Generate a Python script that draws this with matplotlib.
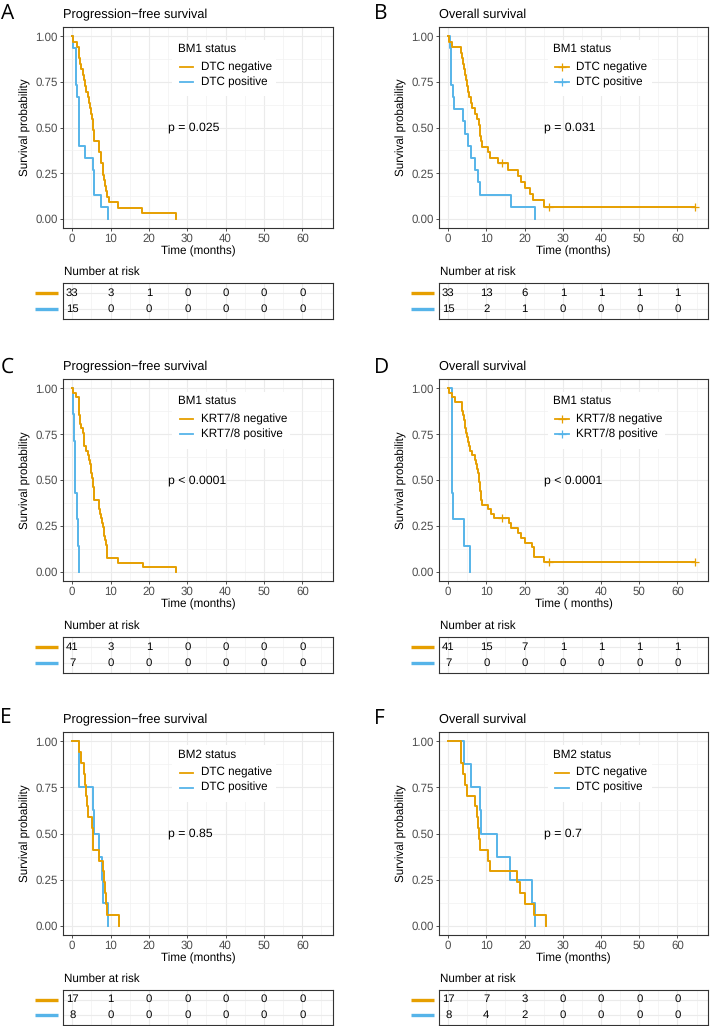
import numpy as np
import matplotlib
matplotlib.use('Agg')
import matplotlib.pyplot as plt
import matplotlib.transforms as mtransforms
from matplotlib.patches import Rectangle

plt.rcParams['font.family'] = ['Liberation Sans', 'DejaVu Sans']
plt.rcParams['text.hinting'] = 'no_hinting'

ORANGE = '#E69F00'
BLUE = '#56B4E9'

# event times (months), censored times separately
a_neg = [0.3, 1.2, 1.7, 1.7, 2.1, 2.4, 2.8, 3.1, 3.4, 3.7, 4.0, 4.3, 4.7, 5.0, 5.2, 5.4, 5.5,
         5.7, 5.7, 6.9, 7.1, 7.4, 7.6, 7.9, 8.1, 8.4, 8.6, 8.8, 9.2, 9.5, 12.0, 18.3, 27.0]
a_pos = [0.25, 0.9, 0.9, 0.9, 1.3, 1.65, 1.65, 1.65, 1.65, 3.3, 5.3, 5.7, 5.7, 7.6, 9.4]

b_neg = [0.3, 1.0, 3.4, 3.6, 3.9, 4.2, 4.4, 4.6, 4.9, 5.2, 5.5, 5.9, 6.3, 7.1, 7.6, 8.0, 8.2,
         8.4, 8.6, 8.8, 10.4, 11.0, 13.0, 15.6, 18.3, 19.1, 20.2, 21.3, 22.2, 25.2]
b_neg_cens = [14.0, 26.3, 64.5]
b_pos = [0.4, 0.7, 0.7, 0.7, 1.2, 1.6, 4.0, 4.3, 5.3, 6.0, 7.0, 7.8, 8.2, 16.4, 22.6]

c_neg = [0.3, 0.9, 1.7, 1.7, 1.9, 1.9, 2.1, 2.1, 2.4, 2.8, 3.0, 3.0, 3.2, 3.6, 4.0, 4.4, 4.6,
         4.9, 5.0, 5.2, 5.4, 5.4, 5.6, 5.6, 5.8, 6.9, 7.0, 7.2, 7.5, 7.8, 8.0, 8.2, 8.4, 8.6,
         8.8, 9.1, 9.1, 9.1, 12.0, 18.4, 27.0]
c_pos = [0.1, 0.5, 0.8, 0.8, 1.2, 1.5, 1.7]

d_neg = [0.3, 0.9, 1.8, 3.5, 3.7, 3.9, 4.1, 4.3, 4.5, 4.7, 4.9, 5.1, 5.4, 5.8, 6.3, 6.9, 7.2,
         7.6, 7.9, 8.0, 8.1, 8.2, 8.4, 8.5, 8.6, 8.8, 10.4, 11.2, 12.0, 15.9, 16.5, 18.3, 19.0,
         20.2, 22.0, 22.5, 22.5, 25.2]
d_neg_cens = [14.0, 26.3, 64.5]
d_pos = [0.9, 0.9, 0.9, 0.9, 1.2, 4.1, 5.6]

e_neg = [1.8, 2.3, 3.1, 3.3, 3.6, 3.9, 4.2, 5.1, 5.5, 5.5, 7.1, 7.9, 8.2, 8.5, 8.7, 9.2, 12.1]
e_pos = [1.7, 1.7, 5.4, 5.8, 7.0, 7.7, 8.1, 9.4]

f_neg = [3.3, 3.3, 3.8, 4.3, 4.9, 7.0, 7.5, 7.8, 8.0, 8.4, 10.4, 11.0, 18.0, 18.8, 20.1, 22.4, 25.5]
f_pos = [4.1, 6.1, 8.4, 8.7, 12.9, 16.3, 21.9, 22.8]

# number at risk at 0, 10, ..., 60
risk_times = [0, 10, 20, 30, 40, 50, 60]
risk_a = [[33, 3, 1, 0, 0, 0, 0], [15, 0, 0, 0, 0, 0, 0]]
risk_b = [[33, 13, 6, 1, 1, 1, 1], [15, 2, 1, 0, 0, 0, 0]]
risk_c = [[41, 3, 1, 0, 0, 0, 0], [7, 0, 0, 0, 0, 0, 0]]
risk_d = [[41, 15, 7, 1, 1, 1, 1], [7, 0, 0, 0, 0, 0, 0]]
risk_e = [[17, 1, 0, 0, 0, 0, 0], [8, 0, 0, 0, 0, 0, 0]]
risk_f = [[17, 7, 3, 0, 0, 0, 0], [8, 4, 2, 0, 0, 0, 0]]

letters = ['A', 'B', 'C', 'D', 'E', 'F']
titles = ['Progression\u2212free survival', 'Overall survival'] * 3
pvals = ['p = 0.025', 'p = 0.031', 'p < 0.0001', 'p < 0.0001', 'p = 0.85', 'p = 0.7']
legend_titles = ['BM1 status', 'BM1 status', 'BM1 status', 'BM1 status', 'BM2 status', 'BM2 status']
dtc_labels = ['DTC negative', 'DTC positive']
krt_labels = ['KRT7/8 negative', 'KRT7/8 positive']
xlabels = ['Time (months)', 'Time (months)', 'Time (months)', 'Time ( months)', 'Time (months)', 'Time (months)']


def km(events, cens):
    t = np.array(list(events) + list(cens), dtype=float)
    e = np.array([1] * len(events) + [0] * len(cens))
    n = len(t)
    s = 1.0
    xs, ys = [0.0], [1.0]
    cx, cy = [], []
    for u in sorted(set(t)):
        d = int(np.sum((t == u) & (e == 1)))
        c = int(np.sum((t == u) & (e == 0)))
        if d:
            s = s * (n - d) / n
            xs.append(u)
            ys.append(s)
        if c:
            cx.append(u)
            cy.append(s)
        n -= d + c
    if xs[-1] < t.max():
        xs.append(t.max())
        ys.append(s)
    return xs, ys, cx, cy


W, H = 712, 1026
fig = plt.figure(figsize=(W / 100, H / 100), dpi=100)


def rect(x0, y0, x1, y1):
    return [x0 / W, 1 - y1 / H, (x1 - x0) / W, (y1 - y0) / H]


cols = [(63, 333), (439, 708)]
rows = [(27, 228, 283, 319), (379, 581, 637, 673), (732, 935, 990, 1025)]
letter_pos = [(1, 19), (374, 19), (1, 373), (374, 373), (0, 723), (374, 724)]

panels = [
    (a_neg, [], a_pos, [], risk_a, dtc_labels, False),
    (b_neg, b_neg_cens, b_pos, [], risk_b, dtc_labels, True),
    (c_neg, [], c_pos, [], risk_c, krt_labels, False),
    (d_neg, d_neg_cens, d_pos, [], risk_d, krt_labels, True),
    (e_neg, [], e_pos, [], risk_e, dtc_labels, False),
    (f_neg, [], f_pos, [], risk_f, dtc_labels, False),
]

XLIM = (-2.4, 68.0)
for i, (neg, neg_c, pos, pos_c, risk, labels, show_cens) in enumerate(panels):
    x0, x1 = cols[i % 2]
    py0, py1, ty0, ty1 = rows[i // 2]
    ax = fig.add_axes(rect(x0, py0, x1, py1))
    axt = fig.add_axes(rect(x0, ty0, x1, ty1))

    for a in (ax, axt):
        a.set_xlim(*XLIM)
        a.set_xticks(risk_times)
        a.set_xticks([5, 15, 25, 35, 45, 55, 65], minor=True)
        a.grid(True, which='major', color='#EBEBEB', lw=0.8, zorder=0)
        a.grid(True, which='minor', color='#F2F2F2', lw=0.5, zorder=0)
        a.set_axisbelow(True)
        for sp in a.spines.values():
            sp.set_color('#333333')
            sp.set_linewidth(0.8)

    # survival curves
    ax.set_ylim(-0.05, 1.05)
    ax.set_yticks([0, 0.25, 0.5, 0.75, 1.0])
    ax.set_yticklabels(['0.00', '0.25', '0.50', '0.75', '1.00'])
    ax.set_yticks([0.125, 0.375, 0.625, 0.875], minor=True)
    ax.tick_params(which='major', labelsize=8.3, labelcolor='#4D4D4D', color='#333333',
                   length=2.5, width=0.6, pad=1.5)
    ax.tick_params(which='minor', length=0)
    for grp, (ev, ce, col) in enumerate([(neg, neg_c, ORANGE), (pos, pos_c, BLUE)]):
        xs, ys, cx, cy = km(ev, ce)
        ax.step(xs, ys, where='post', color=col, lw=1.4, zorder=3 - grp * 0.1)
        if show_cens and cx:
            ax.plot(cx, cy, ls='none', marker='+', ms=6, mew=0.9, color=col, zorder=4)

    ax.set_ylabel('Survival probability', fontsize=8.4)
    ax.yaxis.set_label_coords(-38 / (x1 - x0), 0.5)
    ax.yaxis.label.set_va('center')
    ax.set_xlabel(xlabels[i], fontsize=8.4)
    ax.xaxis.set_label_coords(0.5, -23 / (py1 - py0))
    ax.xaxis.label.set_va('center')

    ax.text(25, 0.5, pvals[i], fontsize=8.8, ha='left', va='center', zorder=5)

    # legend drawn inside the panel
    box_r = 0.84 if labels is krt_labels else 0.79
    ax.add_patch(Rectangle((0.405, 0.655), box_r - 0.405, 0.28, transform=ax.transAxes,
                           facecolor='white', edgecolor='none', zorder=2))
    ax.text(0.425, 0.89, legend_titles[i], transform=ax.transAxes, fontsize=8.4,
            ha='left', va='center', zorder=5)
    for k, (lab, col) in enumerate(zip(labels, [ORANGE, BLUE])):
        yy = 0.80 - k * 0.074
        ax.plot([0.432, 0.482], [yy, yy], transform=ax.transAxes, color=col, lw=1.3, zorder=5)
        if show_cens:
            ax.plot([0.457], [yy], transform=ax.transAxes, marker='+', ms=6, mew=0.9,
                    color=col, zorder=5)
        ax.text(0.51, yy, lab, transform=ax.transAxes, fontsize=8.4, ha='left',
                va='center', zorder=5)

    ax.text(0, 1 + 8.7 / (py1 - py0), titles[i], transform=ax.transAxes, fontsize=9.2,
            ha='left', va='baseline')

    # risk table
    axt.set_ylim(0.4, 2.6)
    axt.set_yticks([1, 2])
    axt.set_yticklabels([])
    axt.set_xticklabels([])
    axt.tick_params(which='both', length=0)
    for row, (vals, col) in enumerate(zip(risk, [ORANGE, BLUE])):
        yv = 2 - row
        for tt, v in zip(risk_times, vals):
            axt.text(tt, yv, str(v), fontsize=8.2, ha='center', va='center')
        trans = mtransforms.blended_transform_factory(axt.transAxes, axt.transData)
        axt.plot([-28 / (x1 - x0), -5 / (x1 - x0)], [yv, yv], transform=trans, color=col,
                 lw=2.4, clip_on=False, solid_capstyle='butt')
    axt.text(0.003, 1 + 11 / (ty1 - ty0), 'Number at risk', transform=axt.transAxes,
             fontsize=8.4, ha='left', va='center')

    lx, ly = letter_pos[i]
    fig.text(lx / W, 1 - ly / H, letters[i], fontsize=15, family=['Open Sans', 'DejaVu Sans'],
             ha='left', va='baseline')

fig.savefig('out.png', dpi=100)
